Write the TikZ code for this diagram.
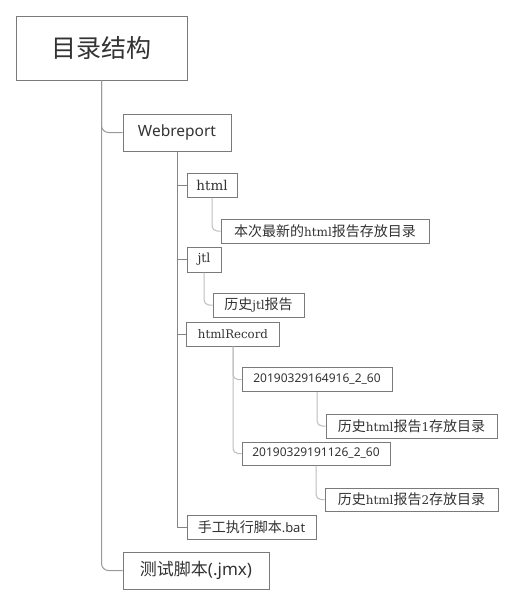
\documentclass[tikz,border=0pt]{standalone}
\usepackage{fontspec}
\newfontfamily\cjk{Noto Sans CJK SC}
\newfontfamily\ser{DejaVu Serif}
\newfontfamily\sns{Noto Sans}
\definecolor{boxc}{HTML}{7A7A7A}
\definecolor{txt}{HTML}{333333}
\definecolor{trunk}{HTML}{9A9A9A}
\definecolor{midl}{HTML}{858585}
\definecolor{lite}{HTML}{BDBDBD}
\tikzset{
  box/.style={draw=boxc, line width=1pt, fill=white, inner sep=0pt, text=txt},
  trunkline/.style={draw=trunk, line width=1pt, rounded corners=7pt},
  midline/.style={draw=midl, line width=1pt},
  liteline/.style={draw=lite, line width=1pt, rounded corners=5pt}
}
\begin{document}
\begin{tikzpicture}[x=1pt,y=-1pt]
\fill[white] (0,0) rectangle (515,606);
\useasboundingbox (0,0) rectangle (515,606);
% nodes
\node[box, minimum width=171pt, minimum height=64pt, font=\cjk\fontsize{25}{30}\selectfont] (root) at (101.5,48) {目录结构};
\node[box, minimum width=108pt, minimum height=37pt, font=\sns\fontsize{15.5}{18}\selectfont] (web) at (177,132.5) {Webreport};
\node[box, minimum width=50pt, minimum height=24pt, font=\ser\fontsize{13.5}{16}\selectfont] (html) at (212,185) {html};
\node[box, minimum width=208pt, minimum height=24pt, font=\cjk\fontsize{14}{16}\selectfont] (htmlnow) at (325,231) {本次最新的{\ser\fontsize{12}{14}\selectfont html}报告存放目录};
\node[box, minimum width=34pt, minimum height=25pt, font=\ser\fontsize{12.5}{15}\selectfont] (jtl) at (204,259.5) {jtl};
\node[box, minimum width=91pt, minimum height=24pt, font=\cjk\fontsize{14}{16}\selectfont] (jtlhist) at (258.5,305) {历史{\ser\fontsize{12}{14}\selectfont jtl}报告};
\node[box, minimum width=93pt, minimum height=24pt, font=\ser\fontsize{11.8}{14}\selectfont] (rec) at (233,334) {htmlRecord};
\node[box, minimum width=150pt, minimum height=24pt, font=\sns\fontsize{12}{14}\selectfont] (dirA) at (317,379.5) {20190329164916\_2\_60};
\node[box, minimum width=171pt, minimum height=24pt, font=\cjk\fontsize{14}{16}\selectfont] (histA) at (411.5,426) {历史{\ser\fontsize{12}{14}\selectfont html}报告{\ser\fontsize{12}{14}\selectfont 1}存放目录};
\node[box, minimum width=148pt, minimum height=23pt, font=\sns\fontsize{12}{14}\selectfont] (dirB) at (316,453.5) {20190329191126\_2\_60};
\node[box, minimum width=173pt, minimum height=23pt, font=\cjk\fontsize{14}{16}\selectfont] (histB) at (411.5,499.5) {历史{\ser\fontsize{12}{14}\selectfont html}报告{\ser\fontsize{12}{14}\selectfont 2}存放目录};
\node[box, minimum width=129pt, minimum height=24pt, font=\cjk\fontsize{14}{16}\selectfont] (bat) at (251.5,527) {手工执行脚本{\sns\fontsize{13}{15}\selectfont .bat}};
\node[box, minimum width=146pt, minimum height=37pt, font=\cjk\fontsize{17}{20}\selectfont] (jmx) at (196,570.5) {测试脚本{\sns\fontsize{17}{20}\selectfont (.jmx)}};
% connectors
\draw[trunkline] (root.south) |- (web.west);
\draw[trunkline] (root.south) |- (jmx.west);
\draw[midline] (web.south) |- (html.west);
\draw[midline] (web.south) |- (jtl.west);
\draw[midline] (web.south) |- (rec.west);
\draw[midline] (web.south) |- (bat.west);
\draw[liteline] (html.south) |- (htmlnow.west);
\draw[liteline] (jtl.south) |- (jtlhist.west);
\draw[liteline] (rec.south) |- (dirA.west);
\draw[liteline] (rec.south) |- (dirB.west);
\draw[liteline] (dirA.south) |- (histA.west);
\draw[liteline] (dirB.south) |- (histB.west);
\end{tikzpicture}
\end{document}
